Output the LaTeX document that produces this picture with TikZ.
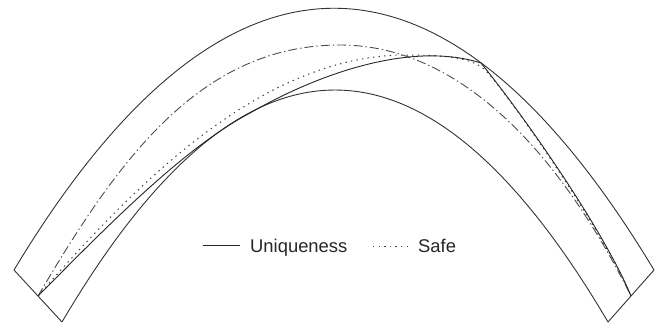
\documentclass[tikz,border=0pt]{standalone}
\usepackage{fontspec}
\setmainfont{Liberation Sans}
\usetikzlibrary{calc}

\begin{document}
\begin{tikzpicture}[
  x=1pt, y=-1pt,
  edge/.style={line width=0.9pt, draw=black!80},
  uniq/.style={line width=0.9pt, draw=black!85},
  safe/.style={line width=1pt, draw=black!75, dash pattern=on 1.4pt off 4.2pt},
  other/.style={line width=0.9pt, draw=black!70, dash pattern=on 9pt off 3pt on 1.4pt off 3pt},
  legend/.style={inner sep=0pt, anchor=base west, text=black!85, font=\fontsize{18.4}{22}\selectfont}
]
\useasboundingbox (0,0) rectangle (659,324);

\coordinate (outl) at (14,270);
\coordinate (innl) at (62,322);
\coordinate (outr) at (654,270);
\coordinate (innr) at (608,322);
\coordinate (startl) at ($(outl)!0.5!(innl)$);
\coordinate (endr) at ($(outr)!0.5!(innr)$);
\coordinate (toptouch) at (481,63);

\draw[edge] (outl) .. controls (224,-79) and (444,-79) .. (outr);
\draw[edge] (innl) .. controls (244,12.7) and (426,12.7) .. (innr);
\draw[edge] (outl) -- (innl);
\draw[edge] (outr) -- (innr);

\draw[other] (startl) .. controls (118,160) and (200,45) .. (340,45)
  .. controls (450,45) and (551,136) .. (endr);
\draw[safe] (startl) .. controls (138,181) and (262,57) .. (403,55)
  .. controls (450,55) and (475,58) .. (488,73)
  .. controls (518,108) and (604,233) .. (endr);
\draw[uniq] (startl) .. controls (98,236) and (180,150) .. (250,113)
  .. controls (325,70) and (415,42) .. (toptouch)
  .. controls (531,125) and (606,235) .. (endr);

\node[legend] (uniqlbl) at (250,252) {Uniqueness};
\node[legend] (safelbl) at (418,252) {Safe};
\draw[uniq] ([shift={(-47pt,7pt)}]uniqlbl.base west) -- ([shift={(-10pt,7pt)}]uniqlbl.base west);
\draw[safe] ([shift={(-45pt,6pt)}]safelbl.base west) -- ([shift={(-10pt,6pt)}]safelbl.base west);
\end{tikzpicture}
\end{document}
